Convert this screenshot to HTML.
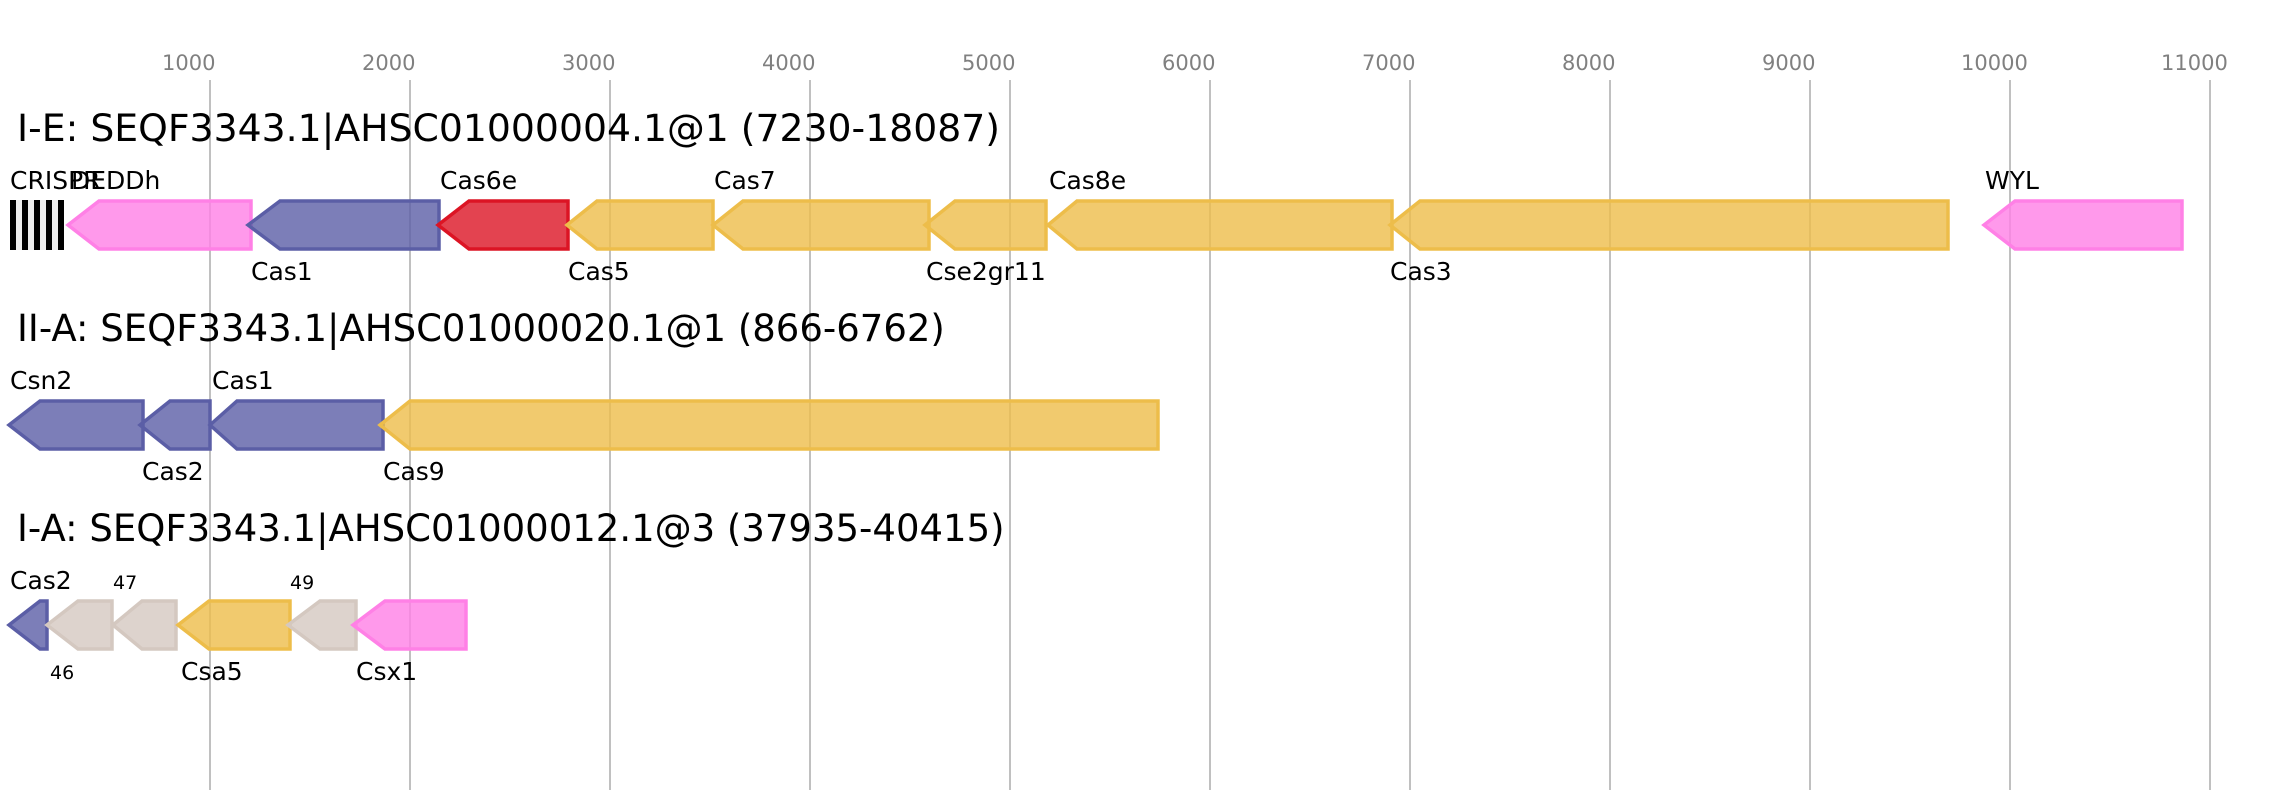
<!DOCTYPE html>
<html><head><meta charset="utf-8"><style>
html,body{margin:0;padding:0;background:#fff;}
svg{display:block;}
text{font-family:"DejaVu Sans","Liberation Sans",sans-serif;}
</style></head><body>
<svg width="2271" height="800" viewBox="0 0 2271 800" xmlns="http://www.w3.org/2000/svg">
<g stroke="#c0c0c0" stroke-width="2">
<line x1="210" y1="80" x2="210" y2="790"/><line x1="410" y1="80" x2="410" y2="790"/>
<line x1="610" y1="80" x2="610" y2="790"/><line x1="810" y1="80" x2="810" y2="790"/>
<line x1="1010" y1="80" x2="1010" y2="790"/><line x1="1210" y1="80" x2="1210" y2="790"/>
<line x1="1410" y1="80" x2="1410" y2="790"/><line x1="1610" y1="80" x2="1610" y2="790"/>
<line x1="1810" y1="80" x2="1810" y2="790"/><line x1="2010" y1="80" x2="2010" y2="790"/>
<line x1="2210" y1="80" x2="2210" y2="790"/>
</g>
<g fill="#808080" font-size="21">
<text x="162" y="70">1000</text><text x="362" y="70">2000</text><text x="562" y="70">3000</text>
<text x="762" y="70">4000</text><text x="962" y="70">5000</text><text x="1162" y="70">6000</text>
<text x="1362" y="70">7000</text><text x="1562" y="70">8000</text><text x="1762" y="70">9000</text>
<text x="1961" y="70">10000</text><text x="2161" y="70">11000</text>
</g>
<g fill="#000" font-size="37">
<text x="17" y="141" textLength="983" lengthAdjust="spacingAndGlyphs">I-E: SEQF3343.1|AHSC01000004.1@1 (7230-18087)</text>
<text x="17" y="341">II-A: SEQF3343.1|AHSC01000020.1@1 (866-6762)</text>
<text x="17" y="541">I-A: SEQF3343.1|AHSC01000012.1@3 (37935-40415)</text>
</g>
<rect x="10" y="200" width="54" height="50" fill="#eeeeee"/>
<g fill="#000"><rect x="10" y="200" width="6" height="50"/><rect x="22" y="200" width="6" height="50"/><rect x="34" y="200" width="6" height="50"/><rect x="46" y="200" width="6" height="50"/><rect x="58" y="200" width="6" height="50"/></g>
<g stroke-width="3.5" fill-opacity="0.8" stroke-linejoin="miter">
<polygon points="68,225 99,201 251,201 251,249 99,249" fill="#ff80e6" stroke="#ff80e6"/>
<polygon points="248,225 280,201 439,201 439,249 280,249" fill="#5b5ea6" stroke="#5b5ea6"/>
<polygon points="438,225 469,201 568,201 568,249 469,249" fill="#dc1424" stroke="#dc1424"/>
<polygon points="567,225 597,201 713,201 713,249 597,249" fill="#edbd4a" stroke="#edbd4a"/>
<polygon points="713,225 743,201 929,201 929,249 743,249" fill="#edbd4a" stroke="#edbd4a"/>
<polygon points="925,225 955,201 1046,201 1046,249 955,249" fill="#edbd4a" stroke="#edbd4a"/>
<polygon points="1048,225 1077,201 1392,201 1392,249 1077,249" fill="#edbd4a" stroke="#edbd4a"/>
<polygon points="1390,225 1420,201 1948,201 1948,249 1420,249" fill="#edbd4a" stroke="#edbd4a"/>
<polygon points="1984,225 2015,201 2182,201 2182,249 2015,249" fill="#ff80e6" stroke="#ff80e6"/>
<polygon points="9,425 40,401 143,401 143,449 40,449" fill="#5b5ea6" stroke="#5b5ea6"/>
<polygon points="140,425 170,401 210,401 210,449 170,449" fill="#5b5ea6" stroke="#5b5ea6"/>
<polygon points="210,425 237,401 383,401 383,449 237,449" fill="#5b5ea6" stroke="#5b5ea6"/>
<polygon points="380,425 410,401 1158,401 1158,449 410,449" fill="#edbd4a" stroke="#edbd4a"/>
<polygon points="9,625 40,601 47,601 47,649 40,649" fill="#5b5ea6" stroke="#5b5ea6"/>
<polygon points="47,625 78,601 112,601 112,649 78,649" fill="#d4c8c0" stroke="#d4c8c0"/>
<polygon points="113,625 142,601 176,601 176,649 142,649" fill="#d4c8c0" stroke="#d4c8c0"/>
<polygon points="178,625 209,601 290,601 290,649 209,649" fill="#edbd4a" stroke="#edbd4a"/>
<polygon points="288,625 320,601 356,601 356,649 320,649" fill="#d4c8c0" stroke="#d4c8c0"/>
<polygon points="353,625 385,601 466,601 466,649 385,649" fill="#ff80e6" stroke="#ff80e6"/>
</g>
<g fill="#000" font-size="25">
<text x="10" y="189">CRISPR</text><text x="71" y="189">DEDDh</text>
<text x="440" y="189">Cas6e</text><text x="714" y="189">Cas7</text>
<text x="1049" y="189">Cas8e</text><text x="1985" y="189">WYL</text>
<text x="251" y="280">Cas1</text><text x="568" y="280">Cas5</text>
<text x="926" y="280">Cse2gr11</text><text x="1390" y="280">Cas3</text>
<text x="10" y="389">Csn2</text><text x="212" y="389">Cas1</text>
<text x="142" y="480">Cas2</text><text x="383" y="480">Cas9</text>
<text x="10" y="589">Cas2</text>
<text x="181" y="680">Csa5</text><text x="356" y="680">Csx1</text>
</g>
<g fill="#000" font-size="19">
<text x="113" y="589">47</text><text x="290" y="589">49</text>
<text x="50" y="679">46</text>
</g>
</svg>
</body></html>
